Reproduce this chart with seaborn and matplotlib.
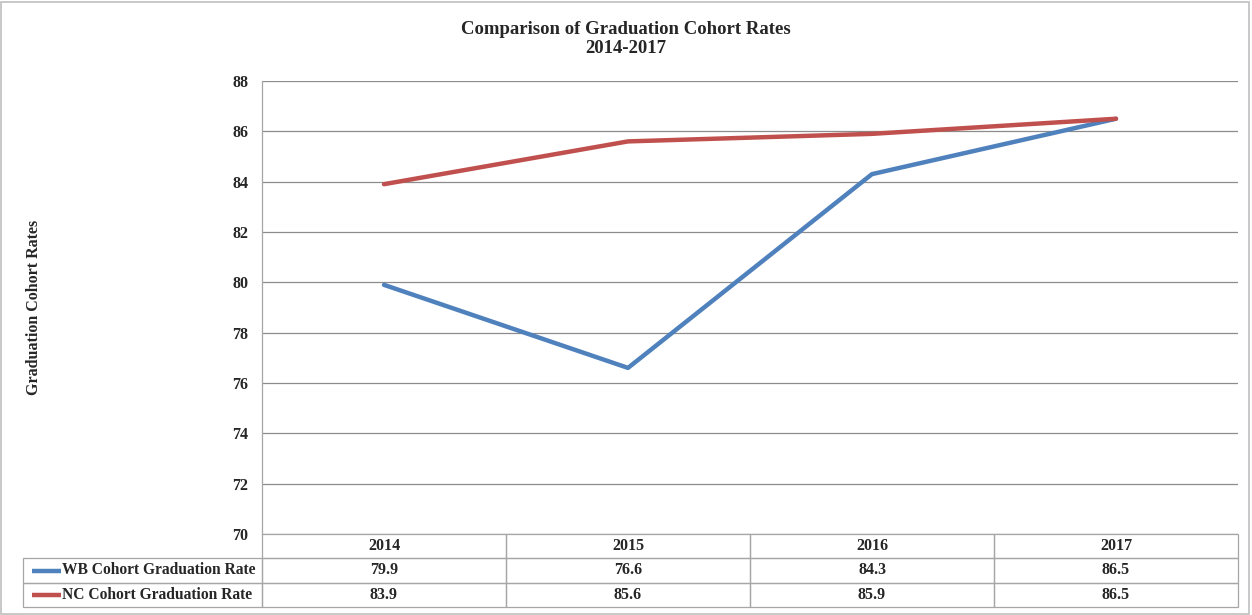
"""
Graduation cohort rates 2014-2017: line chart with an Excel-style data table underneath.
"""
import pandas as pd
import seaborn as sns
import matplotlib.pyplot as plt
from matplotlib.lines import Line2D
from matplotlib.patches import Rectangle

# Data
years = ['2014', '2015', '2016', '2017']
wb_rates = [79.9, 76.6, 84.3, 86.5]
nc_rates = [83.9, 85.6, 85.9, 86.5]
series_names = ['WB Cohort Graduation Rate', 'NC Cohort Graduation Rate']
y_ticks = [70, 72, 74, 76, 78, 80, 82, 84, 86, 88]

BLUE = '#4F81BD'
RED = '#C0504D'
GRID = '#8c8c8c'
BORDER = '#a6a6a6'

W, H = 1252, 615


def build_frame() -> pd.DataFrame:
    rows = []
    for name, values in zip(series_names, [wb_rates, nc_rates]):
        for i, (year, v) in enumerate(zip(years, values)):
            rows.append({'pos': i, 'year': year, 'rate': v, 'series': name})
    return pd.DataFrame(rows)


def fx(px):
    return px / W


def fy(py):
    return 1 - py / H


def cell(fig, x0, x1, y0, y1):
    fig.add_artist(Rectangle((fx(x0), fy(y1)), fx(x1) - fx(x0), fy(y0) - fy(y1),
                             transform=fig.transFigure, fill=False,
                             edgecolor=BORDER, linewidth=0.9))


def main() -> None:
    sns.set_style('white')
    plt.rcParams['font.family'] = ['Liberation Serif', 'DejaVu Serif']
    plt.rcParams['font.weight'] = 'bold'

    data = build_frame()

    left, right, top, bottom = 262, 1238, 81, 534
    fig = plt.figure(figsize=(W / 100, H / 100), dpi=100)
    ax = fig.add_axes([fx(left), fy(bottom), fx(right) - fx(left), fy(top) - fy(bottom)])

    sns.lineplot(data=data, x='pos', y='rate', hue='series',
                 palette=[BLUE, RED], linewidth=3.2, legend=False, ax=ax)

    ax.set_xlim(-0.5, len(years) - 0.5)
    ax.set_ylim(y_ticks[0], y_ticks[-1])
    ax.set_yticks(y_ticks)
    ax.set_xticks([])
    ax.set_xlabel('')
    ax.yaxis.grid(True, color=GRID, linewidth=0.9)
    ax.set_axisbelow(True)
    ax.tick_params(axis='y', length=0, pad=10, labelsize=11.5)
    for lbl in ax.get_yticklabels():
        lbl.set_fontweight('bold')

    for side in ['top', 'right', 'bottom']:
        ax.spines[side].set_visible(False)
    ax.spines['left'].set_color(BORDER)
    ax.spines['left'].set_linewidth(0.9)

    ax.set_ylabel('Graduation Cohort Rates', fontsize=11.5, fontweight='bold')
    ax.yaxis.set_label_coords((34 - left) / (right - left), 0.5)
    ax.yaxis.label.set_va('center')

    # data table below the plot, column edges follow the category slots
    n = len(years)
    col_edges = [left + (right - left) * k / n for k in range(n + 1)]
    row_edges = [534, 558, 583, 607]
    label_left = 23

    for k, year in enumerate(years):
        cell(fig, col_edges[k], col_edges[k + 1], row_edges[0], row_edges[1])
        fig.text(fx((col_edges[k] + col_edges[k + 1]) / 2), fy((row_edges[0] + row_edges[1]) / 2),
                 year, ha='center', va='center', fontsize=11.5, fontweight='bold')

    for r, (name, values, color) in enumerate(zip(series_names, [wb_rates, nc_rates], [BLUE, RED])):
        y0, y1 = row_edges[r + 1], row_edges[r + 2]
        yc = fy((y0 + y1) / 2)
        cell(fig, label_left, left, y0, y1)
        fig.add_artist(Line2D([fx(32), fx(61)], [yc, yc], color=color, linewidth=3.2,
                              transform=fig.transFigure, solid_capstyle='butt'))
        fig.text(fx(62), yc, name, ha='left', va='center', fontsize=11.2, fontweight='bold')
        for k, v in enumerate(values):
            cell(fig, col_edges[k], col_edges[k + 1], y0, y1)
            fig.text(fx((col_edges[k] + col_edges[k + 1]) / 2), yc, f'{v:.1f}',
                     ha='center', va='center', fontsize=11.5, fontweight='bold')

    fig.text(0.5, fy(39), 'Comparison of Graduation Cohort Rates\n2014-2017',
             ha='center', va='center', fontsize=13.5, fontweight='bold',
             linespacing=1.1)

    # outer chart border
    fig.add_artist(Rectangle((0.001, 0.002), 0.997, 0.995, transform=fig.transFigure,
                             fill=False, edgecolor='#bfbfbf', linewidth=1.2))

    fig.savefig('out.png', dpi=100)


if __name__ == '__main__':
    main()
